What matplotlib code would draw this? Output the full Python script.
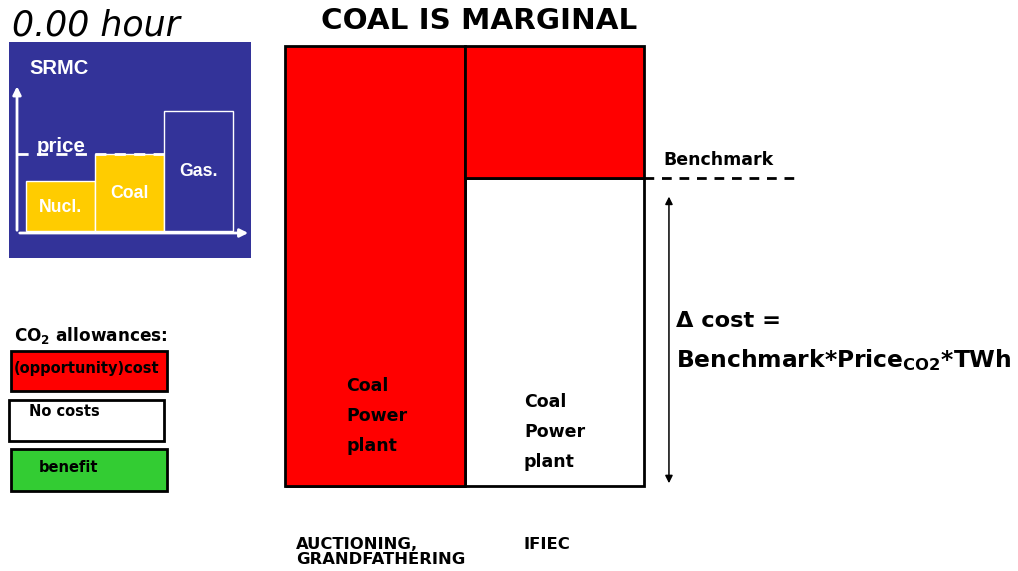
import matplotlib
matplotlib.use("Agg")
import matplotlib.pyplot as plt
from matplotlib.patches import Rectangle

plt.rcParams['font.family'] = ['DejaVu Sans']
plt.rcParams['mathtext.fontset'] = 'dejavusans'

# ---------------- data ----------------
categories = ["AUCTIONING,\nGRANDFATHERING", "IFIEC"]
no_cost_share = [0, 70]          # part of the bar below the benchmark (free allowances)
cost_share = [100, 30]           # part of the bar that carries (opportunity) cost
benchmark = 70
bar_texts = ["Coal\nPower\nplant", "Coal\nPower\nplant"]

srmc_labels = ["Nucl.", "Coal", "Gas."]
srmc_values = [2.0, 3.08, 4.8]
srmc_price = 3.08

legend_labels = ["(opportunity)cost", "No costs", "benefit"]
legend_colors = ["#ff0000", "#ffffff", "#33cc33"]

RED = "#ff0000"
BLUE = "#333399"
YELLOW = "#ffcc00"

W, H = 1018, 571
fig = plt.figure(figsize=(W / 100, H / 100), dpi=100)

# overlay axes in pixel coordinates for free text / legend boxes
ov = fig.add_axes([0, 0, 1, 1])
ov.set_xlim(0, W)
ov.set_ylim(H, 0)
ov.axis('off')

ov.text(12, 26, "0.00 hour", fontsize=25, style='italic', ha='left', va='center')
ov.text(479.5, 21, "COAL IS MARGINAL", fontsize=21.2, fontweight='bold', ha='center', va='center')

# legend
ov.text(14, 336, r"CO$_\mathbf{2}$ allowances:", fontsize=12.2, fontweight='bold', ha='left', va='center')
box_geo = [(11, 351, 156, 40, 14), (9, 400, 155, 41, 29), (11, 449, 156, 42, 39)]
for (x, y, w, h, tx), lab, col in zip(box_geo, legend_labels, legend_colors):
    ov.add_patch(Rectangle((x, y), w, h, facecolor=col, edgecolor='black', lw=2))
    ty = y + 18 if lab != "No costs" else y + 12
    ov.text(tx, ty, lab, fontsize=10.5, fontweight='bold', ha='left', va='center')

ov.text(676, 321, "\u0394 cost =", fontsize=16.2, fontweight='bold', ha='left', va='center')
ov.text(676, 360, r"Benchmark*Price$_\mathbf{CO2}$*TWh", fontsize=16.8, fontweight='bold',
        ha='left', va='center')

# ---------------- main stacked bars ----------------
ax = fig.add_axes([285 / W, (H - 486) / H, 359 / W, 440 / H])
ax.set_xlim(-0.5, 1.5)
ax.set_ylim(0, 100)
ax.axis('off')
x = list(range(len(categories)))
ax.bar(x, no_cost_share, width=1.0, color='white', edgecolor='black', lw=2, zorder=2, clip_on=False)
ax.bar(x, cost_share, width=1.0, bottom=no_cost_share, color=RED, edgecolor='black', lw=2,
       zorder=2, clip_on=False)

ax.plot([1.5, 2.37], [benchmark, benchmark], color='black', lw=2, ls=(0, (3.5, 2.8)), clip_on=False)
ax.text(1.606, benchmark + 2.0, "Benchmark", fontsize=12.5, fontweight='bold', ha='left', va='bottom')
ax.annotate("", xy=(1.639, 0), xytext=(1.639, benchmark - 3.6),
            arrowprops=dict(arrowstyle='<|-|>', color='black', lw=1.1, mutation_scale=11),
            annotation_clip=False)

text_x = [-0.16, 0.831]
text_y = [15.9, 12.3]
for tx, ty, t in zip(text_x, text_y, bar_texts):
    ax.text(tx, ty, t, fontsize=12.5, fontweight='bold', ha='left', va='center', linespacing=1.85)

label_x = [-0.439, 0.831]
for lx, cat in zip(label_x, categories):
    ax.text(lx, -11.5, cat, fontsize=11.8, fontweight='bold', ha='left', va='top', linespacing=1.04)

# ---------------- SRMC inset ----------------
ins = fig.add_axes([9 / W, (H - 258) / H, 242 / W, 216 / H])
ins.set_facecolor(BLUE)
ins.set_xlim(-0.246, 3.26)
ins.set_ylim(-1.08, 7.56)
ins.set_xticks([])
ins.set_yticks([])
for s in ins.spines.values():
    s.set_visible(False)
inset_colors = [YELLOW, YELLOW, BLUE]
sx = [0.5, 1.5, 2.5]
ins.bar(sx, srmc_values, width=1.0, color=inset_colors, edgecolor='white', lw=1, zorder=2)
ins.annotate("", xy=(-0.13, 5.9), xytext=(-0.13, -0.08),
             arrowprops=dict(arrowstyle='-|>', color='white', lw=2, mutation_scale=12))
ins.annotate("", xy=(3.26, -0.08), xytext=(-0.13, -0.08),
             arrowprops=dict(arrowstyle='-|>', color='white', lw=2, mutation_scale=12),
             annotation_clip=False)
ins.plot([-0.13, 2.0], [srmc_price, srmc_price], color='white', lw=2, ls=(0, (4, 3)), zorder=3)
ins.text(0.507, 3.4, "price", family='Liberation Sans', fontsize=14.8, fontweight='bold',
         color='white', ha='center', va='center', zorder=4)
ins.text(0.043, 6.48, "SRMC", family='Liberation Sans', fontsize=14.5, fontweight='bold',
         color='white', ha='left', va='center')
lab_y = [0.92, 1.52, 2.36]
for xx, yy, lab in zip(sx, lab_y, srmc_labels):
    ins.text(xx, yy, lab, family='Liberation Sans', fontsize=12.7, fontweight='bold',
             color='white', ha='center', va='center', zorder=4)

fig.savefig("out.png", dpi=100)
